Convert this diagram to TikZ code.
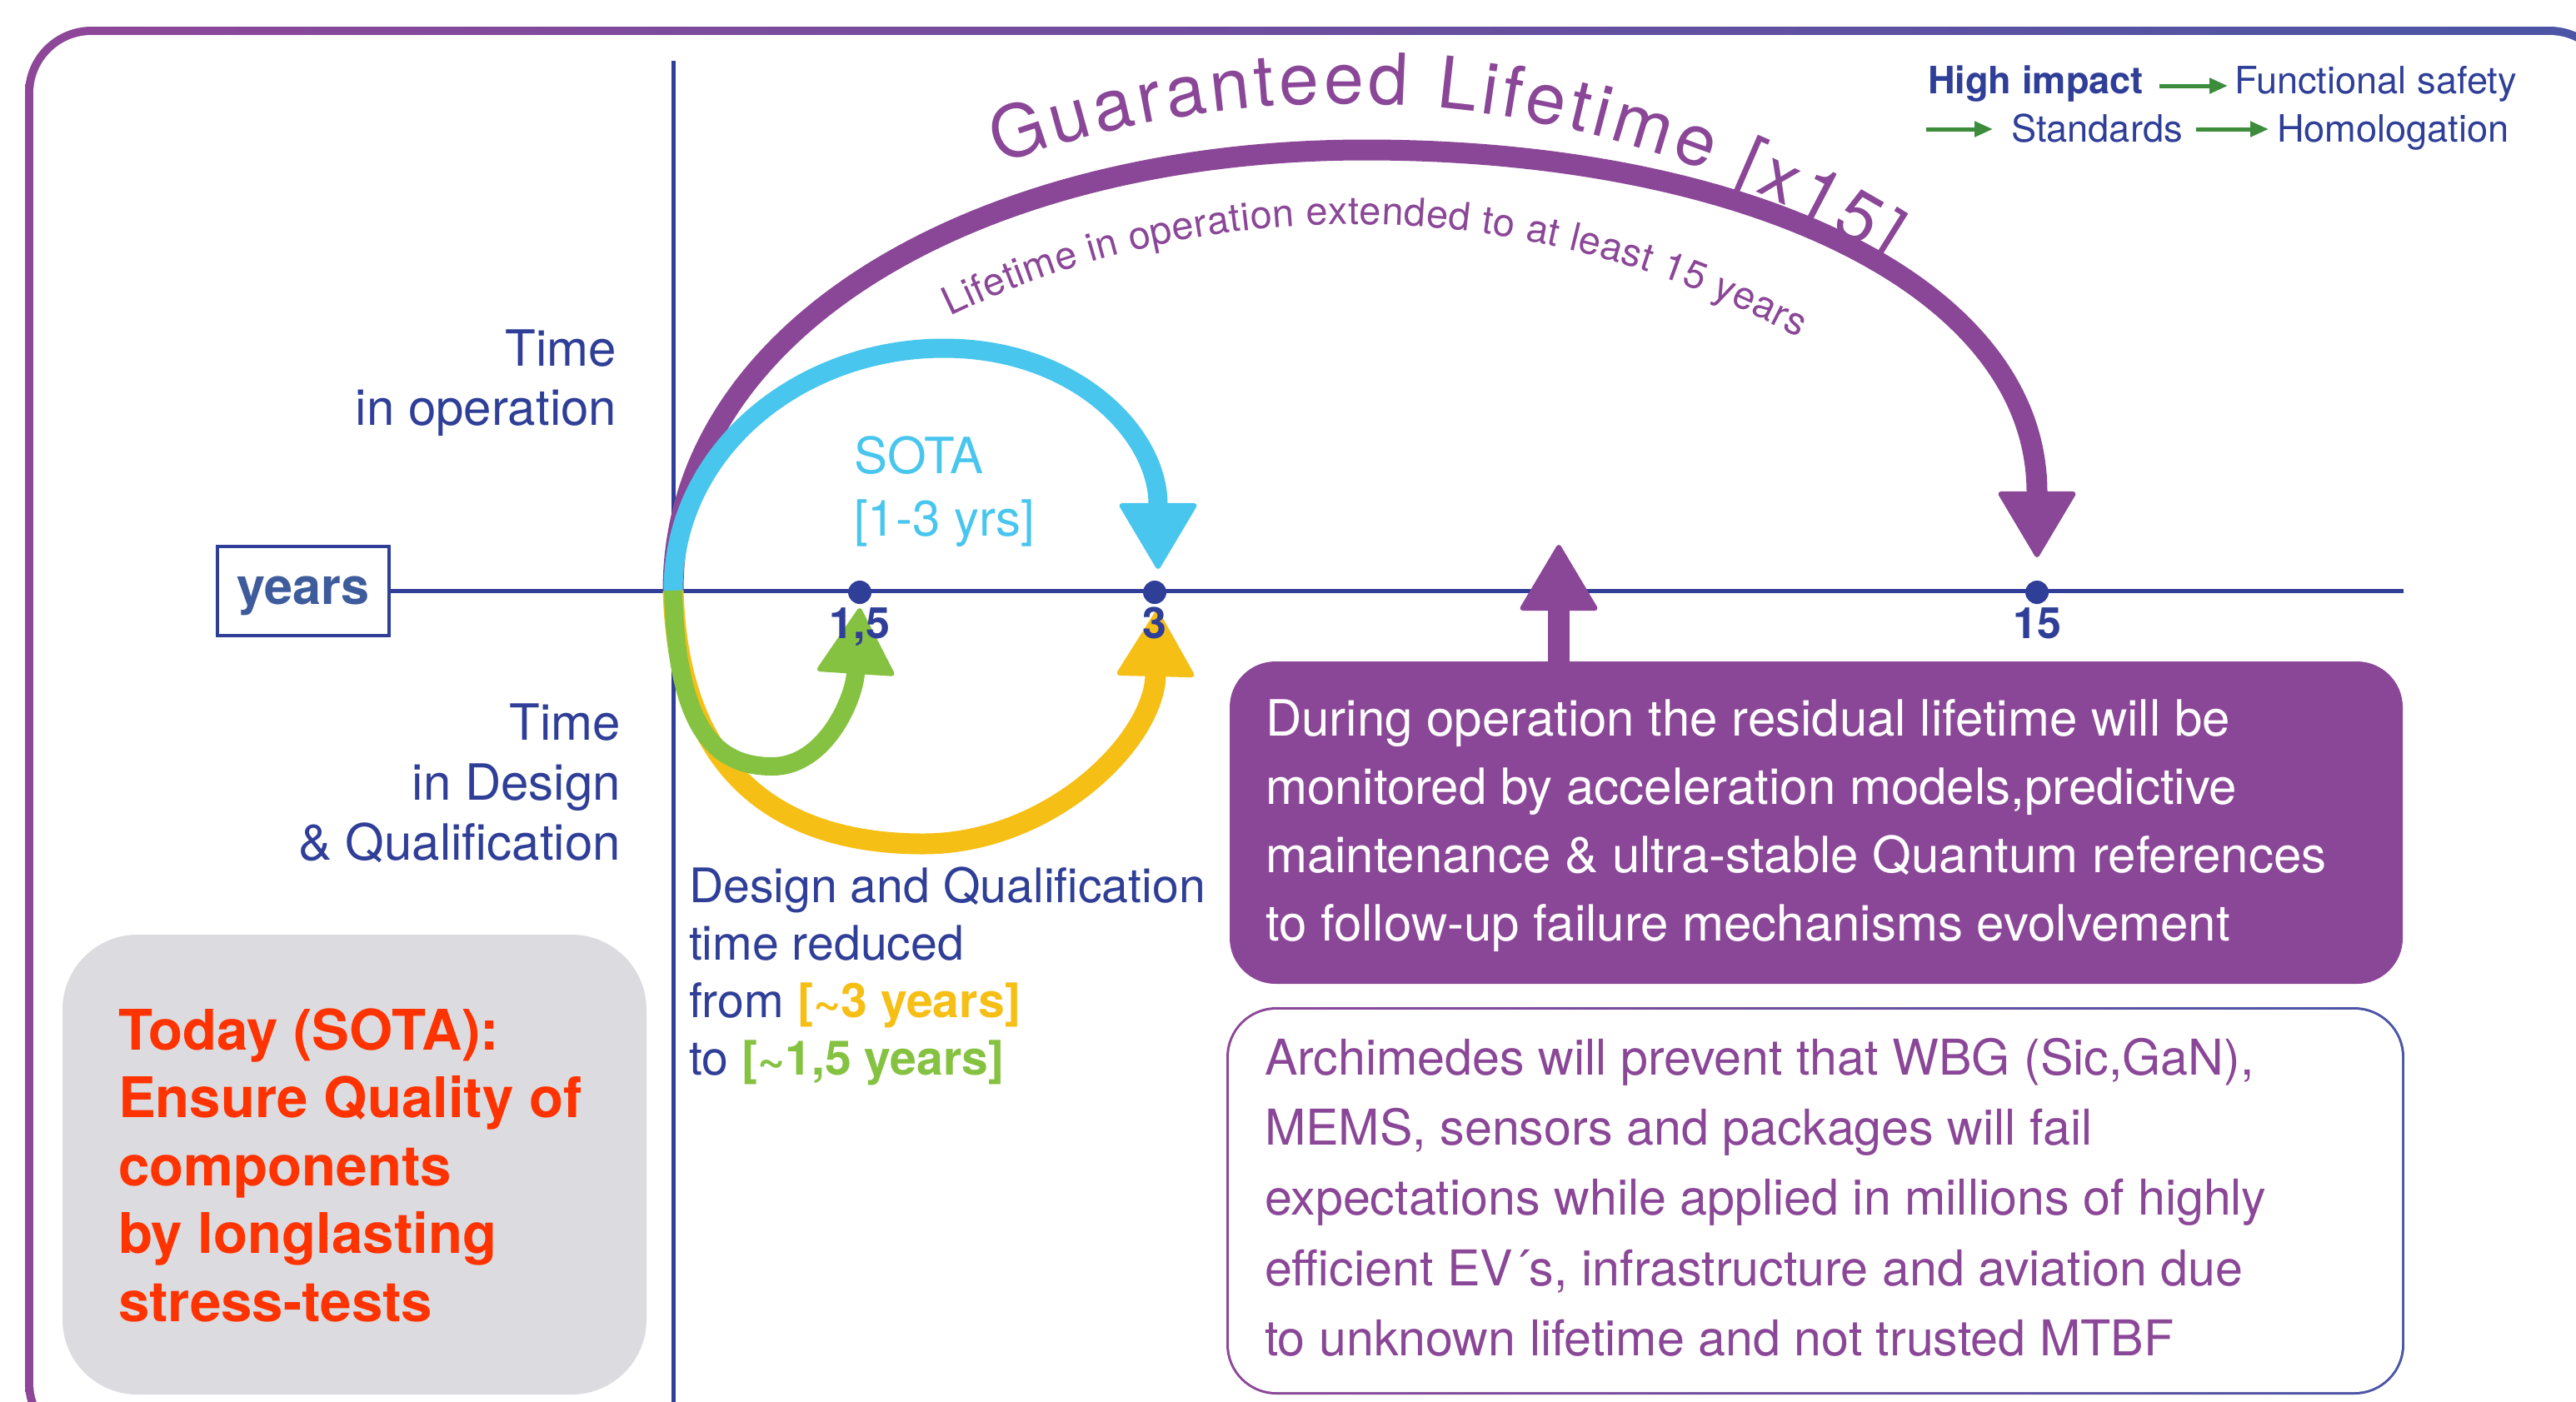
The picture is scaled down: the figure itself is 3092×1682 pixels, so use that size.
\documentclass[tikz,border=0pt]{standalone}
\usepackage{fontspec}
\setmainfont{TeX Gyre Heros}
\usetikzlibrary{arrows.meta,decorations.text,calc}
\definecolor{dblue}{HTML}{2F3E97}
\definecolor{yblue}{HTML}{3E5B9B}
\definecolor{lp}{HTML}{8B4797}
\definecolor{fpurple}{HTML}{8E4798}
\definecolor{fblue}{HTML}{4A55A5}
\definecolor{cyanc}{HTML}{48C6EE}
\definecolor{grn}{HTML}{86C241}
\definecolor{yel}{HTML}{F6BF16}
\definecolor{redo}{HTML}{FF3300}
\definecolor{grayb}{HTML}{DCDBE0}
\definecolor{lgreen}{HTML}{3C8C3C}
\newcommand\blockL[2]{\vtop{\baselineskip=#1\relax\halign{##\hfil\cr#2\crcr}}}
\newcommand\blockR[2]{\vtop{\baselineskip=#1\relax\halign{\hfil##\cr#2\crcr}}}
\newcommand\gltfont{\fontsize{21.5pt}{24pt}\selectfont}
\newcommand\litfont{\fontsize{11.7pt}{14pt}\selectfont}
\tikzset{
  every node/.style={inner sep=0pt, outer sep=0pt},
  axisline/.style={draw=dblue, line width=1.25pt},
  yearsbox/.style={draw=dblue, line width=1pt, minimum width=51.5pt, minimum height=26.75pt,
    text depth=0pt, text=yblue, font=\fontsize{15.3pt}{18pt}\selectfont\bfseries},
  tickdot/.style={circle, fill=dblue, minimum size=7pt},
  ticklabel/.style={text=dblue, font=\fontsize{13pt}{15pt}\selectfont\bfseries, anchor=base},
  bigtip/.style={-{Triangle[width=24pt,length=20.5pt,round,line width=1.5pt]}},
  legarrow/.style={draw=lgreen, line width=1.25pt, -{Triangle[width=4.5pt,length=5.5pt]}},
  dlabel/.style={text=dblue, font=\fontsize{15pt}{18pt}\selectfont},
  boxtext/.style={font=\fontsize{15pt}{18pt}\selectfont, anchor=base west},
  legtext/.style={text=dblue, font=\fontsize{11.3pt}{13pt}\selectfont, anchor=base west}
}
\begin{document}
\begin{tikzpicture}[x=0.25pt,y=-0.25pt]
\useasboundingbox (0,0) rectangle (3092,1682);
\clip (0,0) rectangle (3092,1682);
% frame
\shade[left color=fpurple, right color=fblue, rounded corners=20pt] (30,32) rectangle (3140,1740);
\fill[white, rounded corners=17.5pt] (40,42) rectangle (3130,1730);
% axes
\coordinate (O) at (808,709);
\coordinate (vtop) at (808,73);
\coordinate (vbot) at (808,1690);
\coordinate (axend) at (2885,709);
\node[yearsbox] (years) at (364,709) {years};
\draw[axisline] (vtop) -- (vbot);
\draw[axisline] (years.east) -- (axend);
% guaranteed lifetime arc
\coordinate (tipP) at (2445,669);
\draw[lp, line width=6.25pt, bigtip] (O) .. controls (808,390) and (1180,180) .. (1639,180)
   .. controls (2089,180) and (2445,339) .. (tipP);
% SOTA arc
\coordinate (tipC) at (1390,683);
\draw[cyanc, line width=5.75pt, bigtip] (O) .. controls (808,540) and (960,418) .. (1133,418)
   .. controls (1290,418) and (1390,520) .. (tipC);
% yellow arc
\coordinate (tipY) at (1389,733);
\draw[yel, line width=6.25pt, bigtip] (O) .. controls (815,950) and (960,1013) .. (1108,1013)
   .. controls (1260,1013) and (1385,890) .. (tipY);
% green arc
\coordinate (tipG) at (1032,730);
\draw[grn, line width=5.5pt, bigtip] (O) .. controls (812,880) and (862,920) .. (927,920)
   .. controls (990,920) and (1025,840) .. (tipG);
% ticks
\node[tickdot] (d1) at (1032,711) {};
\node[tickdot] (d3) at (1386,711) {};
\node[tickdot] (d15) at (2445,711) {};
\node[ticklabel] (l1) at (1032,766) {1,5};
\node[ticklabel] (l3) at (1386,766) {3};
\node[ticklabel] (l15) at (2445,766) {15};
% left labels
\node[dlabel, anchor=base east] (timeop) at (740,439) {\blockR{17.75pt}{Time\cr in operation}};
\node[dlabel, anchor=base east] (timedq) at (745,888) {\blockR{18.1pt}{Time\cr in Design\cr \& Qualification}};
% SOTA label
\node[text=cyanc, font=\fontsize{15pt}{18pt}\selectfont, anchor=base west] (sota) at (1025,568) {\blockL{18.75pt}{SOTA\cr [1-3 yrs]}};
% design text
\node[text=dblue, font=\fontsize{14.3pt}{17pt}\selectfont, anchor=base west] (design) at (827,1083)
  {\blockL{17.25pt}{Design and Qualification\cr time reduced\cr from {\bfseries\color{yel}[\textasciitilde 3 years]}\cr to {\bfseries\color{grn}[\textasciitilde 1,5 years]}}};
% purple box
\node[fill=lp, rounded corners=13.75pt, minimum width=352pt, minimum height=96.75pt] (pbox) at (2180,987.5) {};
\node[boxtext, text=white] (ptext) at (1519,883)
  {\blockL{20.5pt}{During operation the residual lifetime will be\cr monitored by acceleration models,predictive\cr maintenance \& ultra-stable Quantum references\cr to follow-up failure mechanisms evolvement}};
\coordinate (tipU) at (1871,654);
\draw[lp, line width=6.5pt, bigtip] (pbox.north -| tipU) -- (tipU);
% Archimedes box
\shade[left color=fpurple, right color=fblue, rounded corners=15pt] (1472,1209) rectangle (2886,1674);
\node[fill=white, rounded corners=14.25pt, minimum width=352pt, minimum height=114.75pt] (abox) at (2179,1441.5) {};
\node[boxtext, text=lp, font=\fontsize{14.8pt}{18pt}\selectfont] (atext) at (1518,1290)
  {\blockL{21.1pt}{Archimedes will prevent that WBG (Sic,GaN),\cr MEMS, sensors and packages will fail\cr expectations while applied in millions of highly\cr efficient EV´s, infrastructure and aviation due\cr to unknown lifetime and not trusted MTBF}};
% Today box
\node[fill=grayb, rounded corners=22.5pt, minimum width=175.25pt, minimum height=138pt] (tbox) at (425.5,1398) {};
\node[text=redo, font=\fontsize{16.8pt}{20pt}\selectfont\bfseries, anchor=base west] (ttext) at (142,1260)
  {\blockL{20.4pt}{Today (SOTA):\cr Ensure Quality of\cr components\cr by longlasting\cr stress-tests}};
% legend
\node[legtext, font=\fontsize{11.3pt}{13pt}\selectfont\bfseries] (hi) at (2314,112) {High impact};
\node[legtext] (fs) at (2682,112) {Functional safety};
\node[legtext] (st) at (2414,170) {Standards};
\node[legtext] (ho) at (2733,170) {Homologation};
\coordinate (ly1) at (0,103);
\coordinate (ly2) at (0,155);
\coordinate (l2start) at (2312,155);
\draw[legarrow, shorten <=4.75pt, shorten >=2pt] (hi.east |- ly1) -- (fs.west |- ly1);
\draw[legarrow, shorten >=5.5pt] (l2start) -- (st.west |- ly2);
\draw[legarrow, shorten <=4pt, shorten >=2.5pt] (st.east |- ly2) -- (ho.west |- ly2);
% curved texts
\path[decorate, decoration={text along path, text color=lp, text={|\gltfont|Guaranteed Lifetime [x15]}, text align={fit to path}}]
  (1613,1332) ++(250:1208) arc[start angle=250, end angle=302.5, radius=1208];
\path[decorate, decoration={text along path, text color=lp, text={|\litfont|Lifetime in operation extended to at least 15 years}, text align={fit to path}}]
  (1625,1382) ++(244.2:1113) arc[start angle=244.2, end angle=298.6, radius=1113];
\end{tikzpicture}
\end{document}
